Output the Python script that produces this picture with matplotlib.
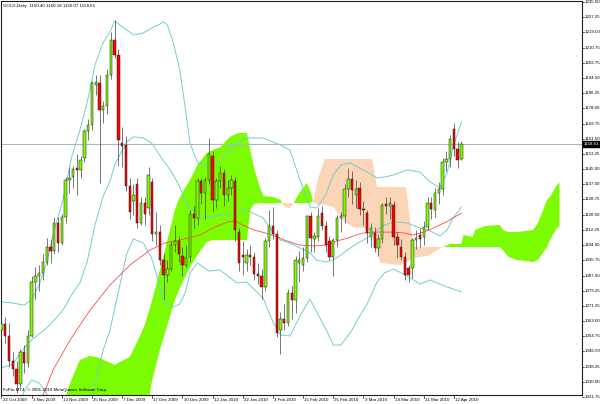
import numpy as np
import matplotlib
matplotlib.use("Agg")
import matplotlib.pyplot as plt
from matplotlib.transforms import blended_transform_factory

plt.rcParams['font.family'] = ['Liberation Sans', 'DejaVu Sans']

# GOLD daily, bar 0 = 22 Oct 2009, one bar per trading day (last bar = 14 Apr 2010)
opens = [1058, 1061, 1055, 1041, 1037, 1029, 1046, 1040, 1055, 1084,
         1087, 1089, 1095, 1103, 1101, 1116, 1105, 1119, 1139, 1141,
         1145.5, 1144.5, 1151, 1165.5, 1169, 1190.5, 1191.5, 1177, 1179, 1196,
         1215, 1207, 1159, 1158, 1136, 1128, 1137, 1116, 1127, 1124,
         1138, 1110, 1111, 1096, 1088, 1091, 1104, 1106, 1098, 1093,
         1097.5, 1121, 1118.5, 1138.5, 1132, 1139, 1152, 1128.5, 1138.5, 1143,
         1131, 1135, 1138.5, 1111, 1098.5, 1094, 1098.5, 1097.5, 1088.5, 1087,
         1081.5, 1106, 1114.5, 1110, 1058, 1064, 1062, 1078, 1074, 1094.5,
         1093, 1097, 1119.5, 1107, 1108.5, 1121.5, 1114.5, 1106, 1097.5, 1106.5,
         1118.5, 1119.5, 1134.5, 1139.5, 1131, 1135, 1123.5, 1121.5, 1108.5, 1110.5,
         1102.5, 1107, 1126, 1125, 1125.5, 1108.5, 1103, 1097.5, 1091.5, 1091.5,
         1106.5, 1109.5, 1108.5, 1114, 1127, 1123, 1132, 1134.5, 1149, 1150.5,
         1167, 1156, 1150.4]
highs = [1066, 1065, 1062, 1046, 1041, 1048, 1050, 1058, 1087, 1092,
         1093, 1099, 1108, 1107, 1119, 1119, 1121, 1141, 1146, 1147,
         1153, 1152, 1167, 1172, 1193, 1196, 1196, 1182, 1199, 1219,
         1226, 1210, 1168, 1163, 1140, 1137, 1140, 1130, 1130, 1146,
         1140, 1122, 1115, 1099, 1096, 1106, 1115, 1109, 1103, 1104,
         1123, 1125, 1140, 1140, 1141, 1162, 1155, 1140, 1147, 1145,
         1139, 1142, 1141, 1113, 1106, 1102, 1104, 1100, 1094, 1091,
         1108, 1123, 1124.5, 1112, 1068, 1072, 1080, 1082, 1098, 1101,
         1103, 1120, 1122, 1111, 1124, 1125, 1117, 1109, 1108, 1120,
         1122, 1137, 1145.5, 1144, 1139, 1138, 1128, 1123, 1116, 1114,
         1110, 1127, 1130, 1130, 1128, 1111, 1107, 1100, 1093, 1108,
         1112, 1113, 1117, 1130, 1130, 1135, 1138, 1151, 1155, 1163.5,
         1170, 1160, 1160.18]
lows = [1053, 1051, 1038, 1033, 1024, 1027, 1035, 1038, 1054, 1075,
        1079, 1085, 1093, 1094, 1099, 1100, 1104, 1116, 1132, 1135,
        1131, 1140, 1149, 1161, 1166, 1185, 1137.5, 1170, 1175, 1194,
        1205, 1147, 1146, 1133, 1118, 1120, 1113, 1115, 1115, 1120,
        1106, 1104, 1093, 1075, 1084, 1090, 1100, 1095, 1087, 1092,
        1095, 1113, 1115, 1126, 1118, 1137, 1122, 1124, 1135, 1125,
        1128, 1131, 1106, 1090, 1088, 1090, 1093, 1085, 1083, 1075,
        1079, 1103, 1107, 1054, 1045, 1058, 1060, 1064, 1067, 1084,
        1090, 1095, 1100, 1100, 1106, 1112, 1100, 1096, 1087, 1103,
        1111, 1116, 1130, 1126, 1124, 1120, 1115, 1105, 1103, 1100,
        1098, 1105, 1121, 1118, 1104, 1097, 1096, 1085, 1084, 1086,
        1102, 1103, 1104, 1112, 1118, 1119, 1126, 1131, 1144, 1146,
        1152, 1145.5, 1150.07]
closes = [1061, 1055, 1041, 1037, 1029, 1046, 1040, 1055, 1084, 1087,
          1089, 1095, 1103, 1101, 1116, 1105, 1119, 1139, 1140, 1145,
          1144.5, 1150, 1165.5, 1169, 1191.5, 1192, 1177, 1179, 1196, 1215,
          1207, 1161, 1157.5, 1136, 1122, 1131, 1116, 1127, 1121, 1142,
          1110, 1111, 1096, 1088, 1091, 1104, 1106, 1099, 1093, 1097,
          1121, 1118.5, 1138.5, 1132, 1139, 1153, 1128.5, 1138.5, 1143, 1131,
          1135, 1139, 1112, 1094, 1097.5, 1098.5, 1097.5, 1088.5, 1087, 1081.5,
          1106, 1114.5, 1110, 1056.5, 1064, 1062, 1078, 1074, 1096, 1096,
          1097, 1119.5, 1108, 1109, 1119.5, 1114.5, 1104, 1097.5, 1106.5, 1118.5,
          1119.5, 1134.5, 1139.5, 1134, 1134.5, 1123.5, 1123, 1110.5, 1113, 1102.5,
          1107, 1125.5, 1125, 1126.5, 1108.5, 1104, 1097.5, 1088, 1088, 1106.5,
          1108, 1107.5, 1114, 1127, 1123.5, 1132, 1134.5, 1149, 1150.5, 1161.5,
          1156, 1150, 1158.61]
last_price = 1158.61

# Bollinger bands, read at these bar positions
bb_bar = [0, 3, 6, 8, 10, 12, 14, 16.3, 18.6, 20.8,
          22.7, 24.8, 26.9, 28.8, 30, 31.4, 33.2, 35, 37.6, 39.8,
          41.6, 43, 44, 45.6, 47.3, 48.7, 50, 52, 55, 58,
          60, 62.4, 65, 69.4, 72, 74, 76.5, 79.2, 81.8, 83.6,
          86, 88, 90, 92.5, 95, 97, 99.6, 101.6, 104, 107.6,
          111, 113.7, 116.3, 118.2, 119.8, 122]
bb_upper = [1073.2, 1072.6, 1071.5, 1074.3, 1082.4, 1094.8, 1112.1, 1128.4, 1151.6, 1166.2,
            1180.9, 1201.4, 1213.3, 1219.3, 1225.2, 1223.1, 1220.4, 1217.6, 1218.7, 1221.4,
            1223.1, 1224.7, 1223.1, 1213.3, 1198.7, 1178.7, 1159.2, 1148.4, 1147.3, 1150.0,
            1154.3, 1159.2, 1161.9, 1161.9, 1159.7, 1158.1, 1155.4, 1139.2, 1124.6, 1124.0,
            1131.1, 1141.9, 1147.3, 1148.4, 1145.7, 1143.5, 1140.3, 1140.8, 1141.9, 1144.6,
            1143.5, 1138.1, 1134.9, 1143.0, 1157.0, 1170.6]
bb_mid = [1037.5, 1039.6, 1048.3, 1052.6, 1055.9, 1059.1, 1063.4, 1068.8, 1077.0, 1083.5,
          1094.8, 1114.8, 1130.0, 1138.6, 1147.3, 1152.7, 1159.7, 1162.5, 1161.9, 1159.2,
          1153.8, 1149.5, 1146.8, 1141.9, 1135.4, 1128.4, 1124.0, 1121.3, 1118.6, 1120.2,
          1120.8, 1121.3, 1123.0, 1118.6, 1111.0, 1106.7, 1105.1, 1102.4, 1099.7, 1095.9,
          1094.8, 1095.9, 1098.6, 1102.4, 1105.6, 1107.8, 1112.1, 1114.8, 1116.5, 1115.9,
          1113.2, 1111.6, 1108.9, 1112.1, 1118.6, 1124.6]
bb_lower = [1001.7, 1006.6, 1025.0, 1031.0, 1029.3, 1023.4, 1014.7, 1009.3, 1002.3, 1000.7,
            1008.8, 1028.3, 1046.7, 1058.0, 1069.4, 1082.4, 1099.1, 1107.3, 1105.1, 1097.0,
            1084.5, 1074.3, 1070.5, 1070.5, 1072.1, 1078.0, 1088.9, 1094.3, 1089.9, 1090.5,
            1087.2, 1083.5, 1084.0, 1075.3, 1062.4, 1055.3, 1054.8, 1065.6, 1074.8, 1067.8,
            1058.6, 1049.9, 1049.9, 1056.4, 1065.6, 1072.1, 1084.0, 1088.9, 1091.0, 1087.2,
            1082.9, 1085.1, 1082.9, 1081.3, 1080.2, 1078.6]

# red moving average
ma_bar = [10, 13.7, 18.2, 23.5, 28.8, 34.1, 39.4, 43.4, 47.3, 52.7,
          56, 60, 62, 64, 67, 71, 75, 79, 83, 86,
          89, 92, 94, 96, 99, 103, 107, 109, 112, 114.5,
          118, 122]
ma_vals = [1017.4, 1036.4, 1052.6, 1068.8, 1082.4, 1093.2, 1101.3, 1105.1, 1106.7, 1109.4,
           1113.2, 1116.5, 1117.0, 1114.8, 1112.1, 1110.0, 1106.7, 1104.0, 1103.5, 1104.0,
           1106.2, 1107.8, 1109.4, 1110.5, 1111.0, 1111.0, 1110.5, 1109.4, 1111.0, 1113.2,
           1116.5, 1121.3]

# Ichimoku cloud edges (senkou span A / B), shifted 26 bars ahead
cloud_bar = [0, 14, 16, 18, 20.8, 23.5, 26, 30, 34, 36,
             38, 40, 42, 44, 46, 47.3, 50, 52, 54.4, 56,
             58, 60.6, 62.7, 65.1, 66, 67, 68.5, 69.5, 72, 74,
             75, 76.5, 77.5, 79, 81, 82, 82.8, 84, 85.8, 88,
             90.6, 93.2, 96.9, 98.3, 99.6, 100.4, 105.7, 107.3, 109.2, 113,
             117, 119, 122, 122.5, 125, 125.6, 128.3, 132.2, 133, 134.5,
             136.7, 141, 142.3, 144.7, 145.5, 147.3, 148]
span_a = [985, 998.5, 1014.7, 1028.3, 1041.8, 1044.0, 1042.9, 1039.1, 1043.4, 1051.5,
          1060.7, 1074.3, 1090.5, 1106.7, 1123.0, 1130.0, 1139.2, 1147.3, 1153.8, 1155.4,
          1157.0, 1162.5, 1164.6, 1164.6, 1155.4, 1145.7, 1135.4, 1130.5, 1130.0, 1128.4,
          1124.6, 1124.0, 1126.7, 1132.2, 1137.6, 1132.7, 1126.7, 1126.2, 1125.7, 1124.6,
          1117.5, 1113.8, 1113.2, 1109.4, 1101.3, 1094.3, 1093.2, 1094.3, 1097.0, 1098.1,
          1102.9, 1104.6, 1104.6, 1109.4, 1108.3, 1112.1, 1114.3, 1114.8, 1112.1, 1111.0,
          1111.0, 1112.1, 1115.9, 1128.4, 1130.0, 1136.5, 1137.6]
span_b = [975, 987.7, 987.7, 987.7, 987.7, 987.7, 987.7, 987.7, 987.7, 993.1,
          1009.3, 1031.0, 1047.2, 1060.7, 1074.3, 1080.7, 1092.1, 1098.6, 1105.6, 1106.7,
          1106.7, 1106.7, 1106.7, 1106.7, 1123.0, 1126.2, 1126.7, 1126.7, 1126.7, 1126.7,
          1126.7, 1126.7, 1126.7, 1126.7, 1126.7, 1126.7, 1128.4, 1140.3, 1150.6, 1150.6,
          1150.6, 1150.6, 1150.6, 1150.6, 1135.4, 1135.4, 1135.4, 1135.4, 1102.9, 1102.9,
          1102.9, 1102.9, 1102.9, 1102.9, 1102.9, 1102.9, 1102.9, 1102.9, 1101.3, 1097.5,
          1095.9, 1094.8, 1095.9, 1102.9, 1106.7, 1113.2, 1114.3]

price_labels = [1235.50, 1227.25, 1219.00, 1210.75, 1202.75, 1194.50, 1186.25, 1178.00,
                1169.75, 1161.50, 1153.25, 1145.00, 1137.00, 1128.75, 1120.50, 1112.25,
                1104.00, 1095.75, 1087.50, 1079.25, 1071.25, 1063.00, 1054.75, 1046.50,
                1038.25, 1030.00, 1021.75]
date_labels = ['22 Oct 2009', '3 Nov 2009', '13 Nov 2009', '25 Nov 2009', '7 Dec 2009',
               '17 Dec 2009', '30 Dec 2009', '12 Jan 2010', '22 Jan 2010', '3 Feb 2010',
               '15 Feb 2010', '25 Feb 2010', '9 Mar 2010', '19 Mar 2010', '31 Mar 2010',
               '12 Apr 2010']
bars_per_label = 8

header = 'GOLD,Daily  1150.40 1160.18 1150.07 1158.61'
footer = 'FxPro MT4, \u00a9 2001-2010 MetaQuotes Software Corp.'

GREEN = '#7CFC00'
PEACH = '#FBD5B5'
FS = 3.2

fig = plt.figure(figsize=(6.0, 4.04), dpi=100)
ax = fig.add_axes([1 / 600, 9 / 404, 581 / 600, 394 / 404])
ax.set_xlim(-0.13, 153.98)
ax.set_ylim(1022.84, 1236.04)

# cloud
cb = np.array(cloud_bar)
sa = np.array(span_a)
sb = np.array(span_b)
ax.fill_between(cb, sa, sb, where=sa >= sb, interpolate=True, color=GREEN, lw=0, zorder=1)
ax.fill_between(cb, sa, sb, where=sa < sb, interpolate=True, color=PEACH, lw=0, zorder=1)

# bands and average
for band in (bb_upper, bb_mid, bb_lower):
    ax.plot(bb_bar, band, color='#6FCFD1', lw=0.7, zorder=2)
ax.plot(ma_bar, ma_vals, color='#FF4A4A', lw=0.6, zorder=2)

ax.axhline(last_price, color='#A9B7C6', lw=0.8, zorder=2)

# candles
o = np.array(opens)
c = np.array(closes)
k = np.arange(len(opens))
ax.vlines(k, lows, highs, color='#404040', lw=0.5, zorder=3)
ax.bar(k, c - o, bottom=o, width=0.62,
       color=np.where(c >= o, GREEN, '#FF0000'),
       edgecolor='#202020', linewidth=0.35, zorder=4)

ax.set_xticks([])
ax.set_yticks([])
for s in ax.spines.values():
    s.set_color('#202020')
    s.set_linewidth(0.8)

# right price scale
tr = blended_transform_factory(ax.transAxes, ax.transData)
px = 1 / 581
for v in price_labels:
    ax.plot([1, 1 + 2 * px], [v, v], transform=tr, color='#202020', lw=0.5, clip_on=False)
    ax.text(1 + 3 * px, v, f'{v:.2f}', transform=tr, fontsize=FS, va='center', ha='left',
            clip_on=False)
ax.text(1 + 1.5 * px, last_price, f'{last_price:.2f}', transform=tr, fontsize=FS,
        color='white', va='center', ha='left', zorder=6, clip_on=False,
        bbox=dict(boxstyle='square,pad=0.15', fc='black', ec='black'))

# time scale
trx = blended_transform_factory(ax.transData, ax.transAxes)
py = 1 / 394
for i, lab in enumerate(date_labels):
    b = i * bars_per_label
    ax.plot([b, b], [0, -3 * py], transform=trx, color='#202020', lw=0.5, clip_on=False)
    ax.text(b + 0.3, -4.8 * py, lab, transform=trx, fontsize=FS, va='center', ha='left')

fig.text(3 / 600, 1 - 6 / 404, header, fontsize=FS, va='center', ha='left')
fig.text(3 / 600, 14 / 404, footer, fontsize=FS, va='center', ha='left')

fig.savefig('out.png', dpi=100)
